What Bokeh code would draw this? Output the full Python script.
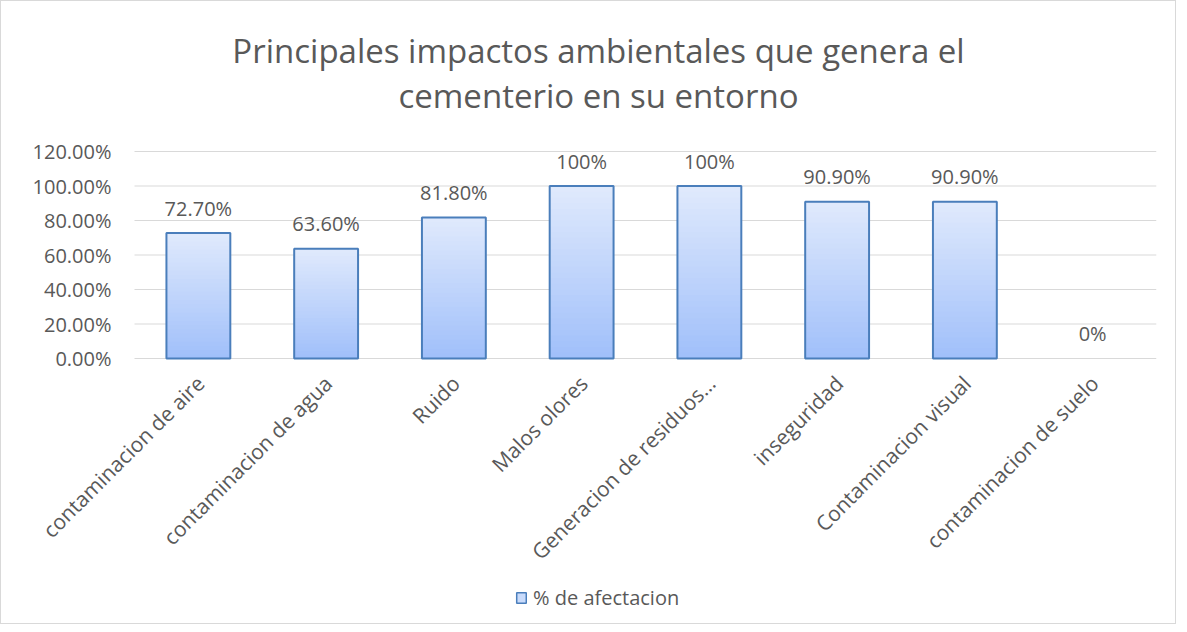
from bokeh.plotting import figure
from bokeh.models import (Label, Legend, LegendItem, ColumnDataSource, Range1d)
from bokeh.embed import file_html
from bokeh.resources import INLINE
from bokeh.core.properties import value
import math

categories = ["contaminacion de aire", "contaminacion de agua", "Ruido", "Malos olores",
              "Generacion de residuos…", "inseguridad", "Contaminacion visual",
              "contaminacion de suelo"]
values = [0.727, 0.636, 0.818, 1.0, 1.0, 0.909, 0.909, 0.0]
labels = ["72.70%", "63.60%", "81.80%", "100%", "100%", "90.90%", "90.90%", "0%"]
series_name = "% de afectacion"
title_lines = ["Principales impactos ambientales que genera el", "cementerio en su entorno"]
y_ticks = [0, 0.2, 0.4, 0.6, 0.8, 1.0, 1.2]
y_tick_labels = ["%.2f%%" % (t * 100) for t in y_ticks]

FONT = "Open Sans"
GRAY = "#595959"
GRID = "#d9d9d9"

W, H = 1176, 624
FL, FR = 2, 1155            # frame left/right on the canvas
PL = 133                    # left edge of the plot area (gridlines start)
FT, FB = 2, 620             # frame top/bottom on the canvas (tall frame, nothing clipped)
Y0, Y120 = 357, 150         # canvas rows of 0% and 120%

n = len(categories)
cat_px = (FR - PL) / n
x_lo = -(PL - FL) / cat_px
per_px = 1.2 / (Y0 - Y120)
y_lo = -(FB - Y0) * per_px
y_hi = 1.2 + (Y120 - FT) * per_px

p = figure(x_range=Range1d(x_lo, n), y_range=Range1d(y_lo, y_hi),
           width=W, height=H, output_backend="svg", toolbar_location=None,
           title_location=None, x_axis_location=None, y_axis_location=None,
           min_border_left=FL, min_border_right=W - FR,
           min_border_top=FT, min_border_bottom=H - FB)
p.styles = {"border": "1px solid #d9d9d9"}
p.outline_line_color = None
p.xgrid.grid_line_color = None
p.ygrid.grid_line_color = None

xc = [i + 0.5 for i in range(n)]

# horizontal gridlines across the plot area
p.segment(x0=[0] * len(y_ticks), x1=[n] * len(y_ticks), y0=y_ticks, y1=y_ticks,
          line_color=GRID, line_width=1)

# y tick labels
p.text(x=[0] * len(y_ticks), y=y_ticks, text=y_tick_labels, x_offset=-23,
       text_align="right", text_baseline="middle", text_font=value(FONT),
       text_font_size="20px", text_color=GRAY)

# gradient bars built from overlapping slices of each value
N = 30
top_c = (0xdf, 0xe9, 0xfc)
bot_c = (0xa1, 0xc0, 0xfa)
xs, bots, tops, cols = [], [], [], []
for x, v in zip(xc, values):
    if v <= 0:
        continue
    for k in range(N):
        f = k / (N - 1)
        col = tuple(int(round(bot_c[i] + (top_c[i] - bot_c[i]) * f)) for i in range(3))
        xs.append(x)
        bots.append(v * k / N)
        tops.append(v)
        cols.append("#%02x%02x%02x" % col)
p.vbar(x=xs, bottom=bots, top=tops, width=0.5, fill_color=cols, line_color=None)

src = ColumnDataSource(dict(x=xc, cat=categories, top=values, lab=labels,
                            zero=[0.0] * n,
                            la=[1.0 if v > 0 else 0.0 for v in values]))
p.vbar(x="x", top="top", width=0.5, source=src, fill_color=None,
       line_color="#4a7ebb", line_width=2, line_alpha="la")

# value labels
p.text(x="x", y="top", text="lab", source=src, text_align="center",
       text_baseline="middle", y_offset=-25, text_font=value(FONT),
       text_font_size="20px", text_color=GRAY)

# category labels, rotated 45 degrees, ending just under each category
p.text(x="x", y="zero", text="cat", source=src, angle=math.pi / 4,
       text_align="right", text_baseline="middle", x_offset=2, y_offset=21,
       text_font=value(FONT), text_font_size="21px", text_color=GRAY)

# chart title (two centred lines), positioned in pixels relative to the frame
TITLE_CX = 597
for line, row in zip(title_lines, [49, 94]):
    p.add_layout(Label(x=TITLE_CX - FL, y=FB - row, x_units="screen", y_units="screen",
                       text=line, text_font=FONT, text_font_size="33px",
                       text_color=GRAY, text_align="center", text_baseline="middle"))

# legend (uses a hidden copy of the bars so the swatch has a fill and border)
legend_r = p.vbar(x="x", top="top", width=0.5, source=src, fill_color="#c9dbfb",
                  line_color="#4a7ebb", line_width=1.5, visible=False)
legend = Legend(items=[LegendItem(label=series_name, renderers=[legend_r], index=0)],
                location=(514 - FL, 10), orientation="horizontal",
                border_line_color=None, background_fill_alpha=0,
                inactive_fill_alpha=0,
                label_text_font=FONT, label_text_font_size="20px",
                label_text_color=GRAY, glyph_width=12, glyph_height=13,
                label_standoff=6, padding=0, margin=0, spacing=0)
p.add_layout(legend, "center")

open("out.html", "w").write(file_html(p, INLINE))
